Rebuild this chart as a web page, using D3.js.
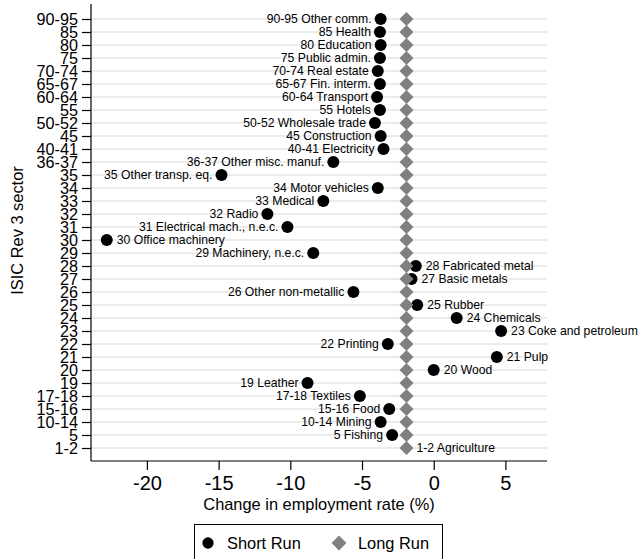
<!DOCTYPE html>
<html>
<head>
<meta charset="utf-8">
<script src="https://cdn.jsdelivr.net/npm/d3@7"></script>
<style>
    body { margin: 0; background: #fff; }
    text { font-family: "Liberation Sans", Arial, Helvetica, sans-serif; fill: #000; }
    .grid line { stroke: #e6e6e6; stroke-width: 1.5; }
    .axis path, .axis line { stroke: #000; stroke-width: 1.2; }
</style>
</head>
<body>
<div id="chart"></div>
<script>
var w = 638;
var h = 559;

// ISIC sector codes, top to bottom
var codes = ["90-95", "85", "80", "75", "70-74", "65-67", "60-64", "55", "50-52", "45",
    "40-41", "36-37", "35", "34", "33", "32", "31", "30", "29", "28", "27", "26", "25",
    "24", "23", "22", "21", "20", "19", "17-18", "15-16", "10-14", "5", "1-2"];

var names = ["Other comm.", "Health", "Education", "Public admin.", "Real estate",
    "Fin. interm.", "Transport", "Hotels", "Wholesale trade", "Construction",
    "Electricity", "Other misc. manuf.", "Other transp. eq.", "Motor vehicles",
    "Medical", "Radio", "Electrical mach., n.e.c.", "Office machinery",
    "Machinery, n.e.c.", "Fabricated metal", "Basic metals", "Other non-metallic",
    "Rubber", "Chemicals", "Coke and petroleum", "Printing", "Pulp", "Wood",
    "Leather", "Textiles", "Food", "Mining", "Fishing", "Agriculture"];

// change in employment rate (%); agriculture has no visible short run dot
var shortRun = [-3.7, -3.75, -3.7, -3.75, -3.9, -3.75, -3.95, -3.75, -4.1, -3.7,
    -3.5, -7.0, -14.8, -3.9, -7.7, -11.6, -10.2, -22.8, -8.4, -1.25, -1.55, -5.6,
    -1.15, 1.6, 4.7, -3.2, 4.4, 0.0, -8.8, -5.15, -3.1, -3.7, -2.9, null];

var longRun = [-1.9, -1.9, -1.9, -1.9, -1.9, -1.9, -1.9, -1.9, -1.9, -1.9,
    -1.9, -1.9, -1.9, -1.9, -1.9, -1.9, -1.9, -1.9, -1.9, -1.9, -1.9, -1.9,
    -1.9, -1.9, -1.9, -1.9, -1.9, -1.9, -1.9, -1.9, -1.9, -1.9, -1.9, -1.9];

var xTicks = [-20, -15, -10, -5, 0, 5];
var xDomain = [-23.9, 7.9];
var series = ["Short Run", "Long Run"];

var plotLeft = 91, plotRight = 547, plotTop = 6, plotBottom = 461;

function init() {
    var dataset = codes.map(function(c, i) {
        return { code: c, name: names[i], sr: shortRun[i], lr: longRun[i] };
    });
    dotChart(dataset);
}

function dotChart(dataset) {
    var xScale = d3.scaleLinear()
        .domain(xDomain)
        .range([plotLeft, plotRight]);

    var yScale = d3.scalePoint()        //one row per sector, a full step spare at the ends
        .domain(codes)
        .range([plotTop, plotBottom])
        .padding(1);

    var svg = d3.select("#chart")
        .append("svg")
        .attr("width", w)
        .attr("height", h);

    // horizontal grid lines
    svg.append("g")
        .attr("class", "grid")
        .selectAll("line")
        .data(codes)
        .enter().append("line")
        .attr("x1", plotLeft)
        .attr("x2", plotRight)
        .attr("y1", function(d) { return yScale(d); })
        .attr("y2", function(d) { return yScale(d); });

    var xAxis = d3.axisBottom(xScale)
        .tickValues(xTicks)
        .tickFormat(function(d) { return String(d); })
        .tickSize(9)
        .tickSizeOuter(0)
        .tickPadding(6);

    var yAxis = d3.axisLeft(yScale)
        .tickSize(9)
        .tickSizeOuter(0)
        .tickPadding(4);

    var gx = svg.append("g")
        .attr("class", "axis")
        .attr("transform", "translate(0," + plotBottom + ")")
        .call(xAxis);
    gx.select(".domain").attr("d", "M" + plotLeft + ",0H" + plotRight);
    gx.selectAll("text").style("font-size", "20px").attr("font-family", null);

    var gy = svg.append("g")
        .attr("class", "axis")
        .attr("transform", "translate(" + plotLeft + ",0)")
        .call(yAxis);
    gy.select(".domain").attr("d", "M0," + (plotTop - 2) + "V" + plotBottom);
    gy.selectAll("text").style("font-size", "16.2px").attr("font-family", null);

    // axis titles
    svg.append("text")
        .attr("x", (plotLeft + plotRight) / 2)
        .attr("y", 510)
        .attr("text-anchor", "middle")
        .style("font-size", "16.4px")
        .text("Change in employment rate (%)");

    svg.append("text")
        .attr("transform", "translate(23," + ((plotTop + plotBottom) / 2 - 3) + ") rotate(-90)")
        .attr("text-anchor", "middle")
        .style("font-size", "16.4px")
        .text("ISIC Rev 3 sector");

    // short run dots
    svg.append("g")
        .selectAll("circle")
        .data(dataset.filter(function(d) { return d.sr !== null; }))
        .enter().append("circle")
        .attr("cx", function(d) { return xScale(d.sr); })
        .attr("cy", function(d) { return yScale(d.code); })
        .attr("r", 6)
        .attr("fill", "#000");

    // long run diamonds drawn over the dots
    var diamond = d3.symbol().type(d3.symbolSquare).size(98);
    svg.append("g")
        .selectAll("path")
        .data(dataset)
        .enter().append("path")
        .attr("d", diamond)
        .attr("fill", "#808080")
        .attr("transform", function(d) {
            return "translate(" + xScale(d.lr) + "," + yScale(d.code) + ") rotate(45)";
        });

    // labels: left of the dot unless the dot sits right of the diamond or there is no room
    var labels = svg.append("g")
        .selectAll("text")
        .data(dataset)
        .enter().append("text")
        .attr("y", function(d) { return yScale(d.code); })
        .attr("dy", "0.35em")
        .style("font-size", "12.2px")
        .text(function(d) { return d.code + " " + d.name; });

    labels.each(function(d) {
        var t = d3.select(this);
        var tw = this.getComputedTextLength();
        if (d.sr === null) {
            t.attr("x", xScale(d.lr) + 10).attr("text-anchor", "start");
            return;
        }
        var cx = xScale(d.sr);
        if (d.sr >= d.lr - 0.05) {
            t.attr("x", Math.max(cx, xScale(d.lr)) + 10).attr("text-anchor", "start");
        } else if (cx - 9 - tw < plotLeft) {
            t.attr("x", cx + 10).attr("text-anchor", "start");
        } else {
            t.attr("x", cx - 9).attr("text-anchor", "end");
        }
    });

    // legend
    var legend = svg.append("g");
    legend.append("rect")
        .attr("x", 194.5)
        .attr("y", 524.5)
        .attr("width", 248)
        .attr("height", 44)
        .attr("fill", "#fff")
        .attr("stroke", "#000")
        .attr("stroke-width", 1);

    var items = legend.selectAll("g.item")
        .data(series)
        .enter().append("g")
        .attr("class", "item")
        .attr("transform", function(d, i) { return "translate(" + (i === 0 ? 208 : 339) + ",543)"; });

    items.append("path")
        .attr("d", function(d, i) {
            return i === 0 ? d3.symbol().type(d3.symbolCircle).size(100)()
                           : d3.symbol().type(d3.symbolSquare).size(110)();
        })
        .attr("transform", function(d, i) { return i === 0 ? null : "rotate(45)"; })
        .attr("fill", function(d, i) { return i === 0 ? "#000" : "#808080"; });

    items.append("text")
        .attr("x", 19)
        .attr("y", 6)
        .style("font-size", "16.4px")
        .text(function(d) { return d; });
}

init();
</script>
</body>
</html>
